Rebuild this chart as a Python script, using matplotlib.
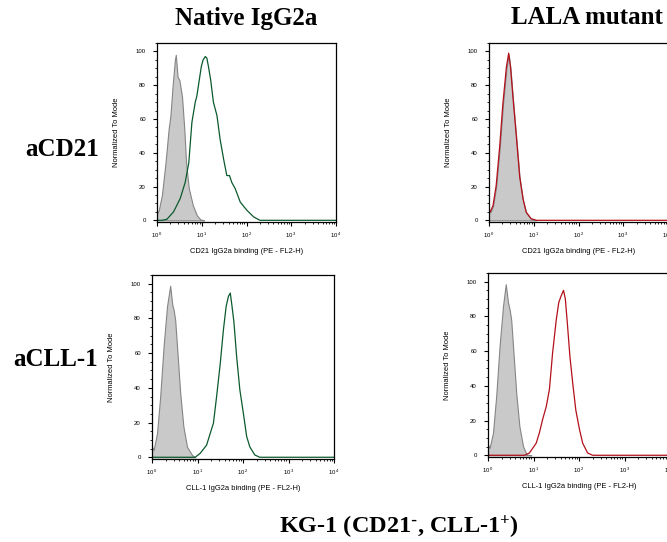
import matplotlib.pyplot as plt
import numpy as np
from matplotlib.ticker import MultipleLocator, LogLocator

# histogram outlines, x given as log10 of fluorescence, y as % of mode
tl_iso_x = [0.0, 0.04, 0.11, 0.19, 0.26, 0.30, 0.35, 0.40, 0.42, 0.46, 0.50, 0.56, 0.61, 0.65, 0.71, 0.80, 0.89, 0.97, 1.05]
tl_iso_y = [4, 6, 15, 34, 54, 62, 80, 95, 98, 85, 83, 73, 54, 34, 19, 9, 3, 0.5, 0]
tl_ab_x = [0.0, 0.11, 0.22, 0.37, 0.52, 0.63, 0.71, 0.78, 0.855, 0.89, 0.95, 0.99, 1.03, 1.08, 1.115, 1.15, 1.20,
           1.26, 1.34, 1.41, 1.49, 1.56, 1.62, 1.67, 1.75, 1.86, 2.01, 2.16, 2.30, 4.0]
tl_ab_y = [0, 0, 0.6, 5, 13, 22.5, 34, 58, 70, 73.5, 84, 91, 95, 97, 96, 91, 83,
           70, 62, 48, 36, 26.5, 26.5, 22.5, 18.6, 10.8, 5.9, 2, 0, 0]

tr_iso_x = [0.0, 0.03, 0.09, 0.16, 0.24, 0.31, 0.39, 0.44, 0.48, 0.535, 0.61, 0.685, 0.76, 0.83, 0.94, 1.06]
tr_iso_y = [5.5, 4.8, 8.5, 20, 43, 68, 90, 98, 90, 72, 49, 25, 12, 4.5, 0.8, 0]
tr_ab_x = [0.0, 0.015, 0.03, 0.09, 0.16, 0.24, 0.31, 0.39, 0.44, 0.48, 0.535, 0.61, 0.685, 0.76, 0.83, 0.94, 1.06, 4.0]
tr_ab_y = [5.5, 5.9, 5, 8.8, 20.5, 44, 69, 91, 99, 91, 73, 50, 26, 12.7, 4.9, 1, 0, 0]

bl_iso_x = [0.0, 0.015, 0.036, 0.11, 0.18, 0.255, 0.33, 0.40, 0.445, 0.475, 0.51, 0.56, 0.62, 0.69, 0.77, 0.88, 0.95]
bl_iso_y = [6, 5.2, 4.2, 13.8, 35, 64, 87, 98.8, 88, 85, 79, 60, 37, 17.7, 6, 1.3, 0]
bl_ab_x = [0.0, 0.95, 1.06, 1.20, 1.28, 1.35, 1.42, 1.50, 1.57, 1.63, 1.68, 1.72, 1.75, 1.80, 1.86, 1.93,
           2.01, 2.08, 2.15, 2.26, 2.37, 4.0]
bl_ab_y = [0, 0, 2.3, 7, 13.8, 19.6, 35, 54, 73.5, 87, 92.7, 94.6, 88.8, 78, 58, 39,
           25, 12, 6, 1.3, 0, 0]

br_iso_x = [0.0, 0.015, 0.036, 0.11, 0.18, 0.255, 0.33, 0.39, 0.44, 0.475, 0.51, 0.56, 0.62, 0.69, 0.77, 0.85, 0.95]
br_iso_y = [6, 5.2, 4.2, 13, 34, 63, 86, 98.5, 88, 84, 78, 59, 36, 16.7, 5.2, 0.4, 0]
br_ab_x = [0.0, 0.80, 0.91, 1.06, 1.13, 1.20, 1.28, 1.35, 1.42, 1.50, 1.555, 1.61, 1.66, 1.70, 1.75, 1.80,
           1.86, 1.93, 2.01, 2.08, 2.19, 2.30, 4.0]
br_ab_y = [0, 0, 1.3, 7, 13, 20.6, 28, 38, 59, 78, 88, 92, 95, 90, 74, 57,
           42, 26, 15, 7, 1.3, 0, 0]

col_titles = ["Native IgG2a", "LALA mutant"]
row_titles = ["aCD21", "aCLL-1"]
x_labels = ["CD21 IgG2a binding (PE - FL2-H)", "CLL-1 IgG2a binding (PE - FL2-H)"]
y_label = "Normalized To Mode"
x_ticks = [1, 10, 100, 1000, 10000]
x_ticklabels = [r"$\mathdefault{10^{\,0}}$", r"$\mathdefault{10^{\,1}}$", r"$\mathdefault{10^{\,2}}$",
                r"$\mathdefault{10^{\,3}}$", r"$\mathdefault{10^{\,4}}$"]
y_ticks = [0, 20, 40, 60, 80, 100]
cell_title = r"KG-1 (CD21$\mathdefault{^{\text{-}}}$, CLL-1$\mathdefault{^{+}}$)"

green = "#0b5a2e"
red = "#b3101a"

W, H = 667, 542
fig = plt.figure(figsize=(W / 100, H / 100), dpi=100)
plt.rcParams['font.family'] = ['Liberation Sans', 'DejaVu Sans']


def box(l, t, r, b):
    return [l / W, 1 - b / H, (r - l) / W, (b - t) / H]


panels = [
    (box(157, 43, 336, 222), tl_iso_x, tl_iso_y, tl_ab_x, tl_ab_y, green, x_labels[0]),
    (box(489, 43, 668, 222), tr_iso_x, tr_iso_y, tr_ab_x, tr_ab_y, red, x_labels[0]),
    (box(152, 275, 334, 459), bl_iso_x, bl_iso_y, bl_ab_x, bl_ab_y, green, x_labels[1]),
    (box(488, 273, 670, 457), br_iso_x, br_iso_y, br_ab_x, br_ab_y, red, x_labels[1]),
]

for rect, ix, iy, ax_, ay, c, xl in panels:
    ax = fig.add_axes(rect)
    ix = 10 ** np.array(ix)
    ax_ = 10 ** np.array(ax_)
    ax.fill_between(ix, iy, 0, facecolor="#c9c9c9", edgecolor="#858585", linewidth=0.8)
    ax.plot(ax_, ay, color=c, linewidth=0.9)
    ax.set_xscale("log")
    ax.set_xlim(1, 1e4)
    ax.set_ylim(-1, 105)
    ax.set_yticks(y_ticks)
    ax.yaxis.set_minor_locator(MultipleLocator(5))
    ax.set_xticks(x_ticks)
    ax.set_xticklabels(x_ticklabels)
    ax.xaxis.set_minor_locator(LogLocator(base=10, subs=np.arange(2, 10), numticks=10))
    ax.tick_params(which="major", length=3, width=0.8, labelsize=4.3, pad=5)
    ax.tick_params(which="minor", length=1.6, width=0.6)
    ax.tick_params(axis="x", which="major", pad=3.5)
    for s in ax.spines.values():
        s.set_linewidth(0.9)
    ax.set_xlabel(xl, fontsize=5.4, labelpad=5.5)
    ax.set_ylabel(y_label, fontsize=5.4, labelpad=11)

serif = dict(family="Liberation Serif", weight="bold", fontsize=18)
fig.text(246 / W, 1 - 18 / H, col_titles[0], ha="center", va="center", **serif)
fig.text(587 / W, 1 - 18 / H, col_titles[1], ha="center", va="center", **serif)
fig.text(99 / W, 1 - 150 / H, row_titles[0], ha="right", va="center", **serif)
fig.text(98 / W, 1 - 360 / H, row_titles[1], ha="right", va="center", **serif)
fig.text(399 / W, 1 - 527 / H, cell_title, ha="center", va="center",
         family="Liberation Serif", weight="bold", fontsize=17.5)

fig.savefig("out.png", dpi=100)
